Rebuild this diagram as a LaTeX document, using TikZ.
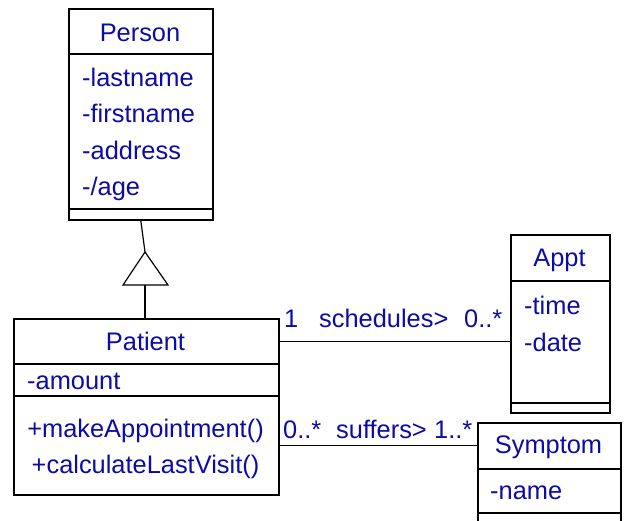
\documentclass[tikz,border=0pt]{standalone}
\usepackage{fontspec}
\setmainfont{Liberation Sans}
\definecolor{umltext}{RGB}{12,12,165}
\begin{document}
\begin{tikzpicture}[x=1pt,y=-1pt,
  compart/.style={draw=black, line width=1.6pt, inner sep=0pt, anchor=north west, fill=white},
  txt/.style={text=umltext, inner sep=0pt, font=\fontsize{25.4}{29}\selectfont},
  conn/.style={draw=black, line width=1.2pt}]
\clip (0,0) rectangle (624,520);
\fill[white] (0,0) rectangle (624,520);
% Person
\node[compart, minimum width=144pt, minimum height=45pt] (personName) at (68,8) {};
\node[compart, minimum width=144pt, minimum height=155pt] (personAttr) at (68,53) {};
\node[compart, minimum width=144pt, minimum height=11pt] (personOps) at (68,208) {};
\node[txt, anchor=base] (tPerson) at (140,41) {Person};
\node[txt, anchor=base west] (tLast) at (82,86) {-lastname};
\node[txt, anchor=base west] (tFirst) at (82,122) {-firstname};
\node[txt, anchor=base west] (tAddr) at (82,159) {-address};
\node[txt, anchor=base west] (tAge) at (82,195) {-/age};
% Patient
\node[compart, minimum width=265pt, minimum height=45pt] (patientName) at (13,318) {};
\node[compart, minimum width=265pt, minimum height=32pt] (patientAttr) at (13,363) {};
\node[compart, minimum width=265pt, minimum height=99pt] (patientOps) at (13,395) {};
\node[txt, anchor=base] (tPatient) at (145.5,350) {Patient};
\node[txt, anchor=base west] (tAmount) at (27,389) {-amount};
\node[txt, anchor=base] (tMake) at (145.5,437) {+makeAppointment()};
\node[txt, anchor=base] (tCalc) at (145.5,473) {+calculateLastVisit()};
% Appt
\node[compart, minimum width=99pt, minimum height=46pt] (apptName) at (510,234) {};
\node[compart, minimum width=99pt, minimum height=122pt] (apptAttr) at (510,280) {};
\node[compart, minimum width=99pt, minimum height=10pt] (apptOps) at (510,402) {};
\node[txt, anchor=base] (tAppt) at (559.5,266) {Appt};
\node[txt, anchor=base west] (tTime) at (524,314) {-time};
\node[txt, anchor=base west] (tDate) at (524,351) {-date};
% Symptom
\node[compart, minimum width=143pt, minimum height=46pt] (symName) at (477,422) {};
\node[compart, minimum width=143pt, minimum height=44pt] (symAttr) at (477,468) {};
\node[compart, minimum width=143pt, minimum height=20pt] (symOps) at (477,512) {};
\node[txt, anchor=base] (tSym) at (548.5,453) {Symptom};
\node[txt, anchor=base west] (tName) at (490,499) {-name};
% Generalization
\coordinate (apex) at (145,252);
\coordinate (baseL) at (123,285);
\coordinate (baseR) at (168,285);
\coordinate (baseM) at (145,285);
\draw[conn] (personOps.south) -- (apex);
\draw[conn, line join=miter] (apex) -- (baseR) -- (baseL) -- cycle;
\draw[conn] (baseM) -- (baseM |- patientName.north);
% Associations
\draw[conn] (patientName.east) -- (patientName.east -| apptAttr.west);
\draw[conn] (patientOps.east) -- (patientOps.east -| symName.west);
\node[txt, anchor=base west] (m1) at (284,327) {1};
\node[txt, anchor=base west] (lSched) at (319,327) {schedules>};
\node[txt, anchor=base west] (m2) at (464,327) {0..*};
\node[txt, anchor=base west] (m3) at (283,438) {0..*};
\node[txt, anchor=base west] (lSuff) at (336,438) {suffers>};
\node[txt, anchor=base west] (m4) at (434,438) {1..*};
\end{tikzpicture}
\end{document}
